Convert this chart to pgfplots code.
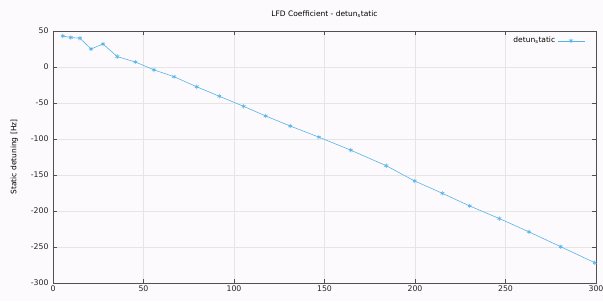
\documentclass[border=0pt]{standalone}
\usepackage{pgfplots}
\pgfplotsset{compat=1.18}
\usepackage{fontspec}
\setmainfont{DejaVu Sans}
\definecolor{sky}{RGB}{86,180,233}
\definecolor{bg}{RGB}{253,250,253}
\definecolor{axisgray}{RGB}{80,80,80}
\begin{document}
\begin{tikzpicture}
\fill[bg] (-53pt,-18pt) rectangle (550pt,283pt);
\path[use as bounding box] (-53pt,-18pt) rectangle (550pt,283pt);
\begin{axis}[
  at={(0pt,0pt)}, anchor=south west,
  scale only axis, width=543pt, height=252pt,
  xmin=0, xmax=300, ymin=-300, ymax=50,
  xtick={0,50,...,300}, ytick={-300,-250,...,50},
  tick align=inside, major tick length=4pt,
  tick style={axisgray, line width=0.6pt},
  axis line style={axisgray, line width=0.8pt},
  grid=major, grid style={gray!20, line width=0.5pt},
  tick label style={font=\fontsize{7.8}{9}\selectfont, text=black!85},
  /pgf/number format/assume math mode=true,
  yticklabel style={xshift=-1pt},
  xticklabel style={yshift=1pt},
  title={LFD Coefficient - detun\textsubscript{s}tatic},
  title style={font=\fontsize{7.5}{9}\selectfont, yshift=4pt},
  ylabel={Static detuning [Hz]},
  ylabel style={font=\fontsize{7.5}{9}\selectfont, yshift=6pt},
  legend style={draw=none, fill=none, at={(1,1)}, anchor=north east,
    xshift=-8pt, yshift=-2pt, font=\fontsize{7.5}{9}\selectfont, legend cell align=right},
  legend plot pos=right,
  legend image code/.code={\draw[mark repeat=2, mark phase=2, #1] plot coordinates {(0pt,0pt) (13.5pt,0pt) (27pt,0pt)};},
]
\addplot[sky, line width=0.6pt, mark=asterisk, mark size=2.2pt, mark options={line width=0.6pt}] coordinates {
(5.4,43) (9.8,41) (14.9,40) (21,25) (27.6,32) (35.5,14.5) (45.5,7)
(55.8,-4) (66.9,-13.5) (79.4,-27.5) (91.9,-40.6) (105.3,-54.6)
(117.5,-68) (131.1,-82) (146.9,-97.4) (164.5,-115.5) (184.1,-137.1)
(199.8,-158.3) (215.1,-175.4) (230.2,-193) (246.6,-210.5) (263,-229)
(280.5,-249.6) (299.3,-271.8)
};
\addlegendentry{detun\textsubscript{s}tatic}
\end{axis}
\end{tikzpicture}
\end{document}
